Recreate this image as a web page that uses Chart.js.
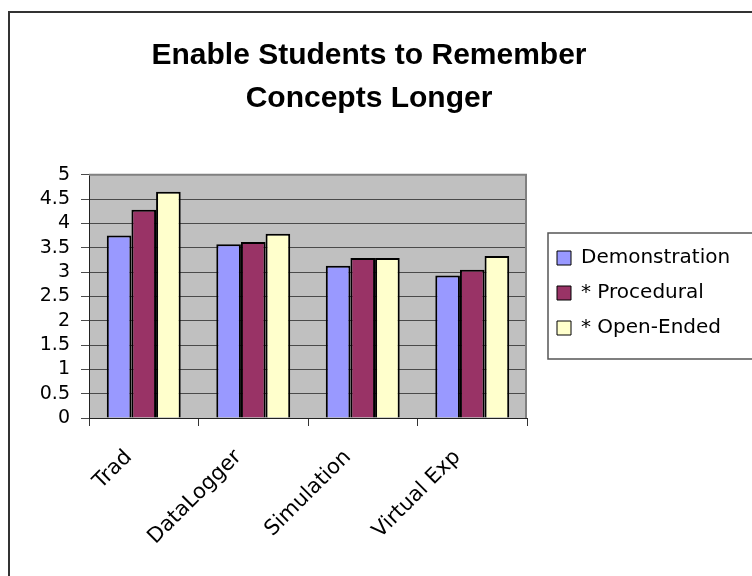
<!DOCTYPE html>
<html>
<head>
<meta charset="utf-8">
<title>Enable Students to Remember Concepts Longer</title>
<script src="https://cdn.jsdelivr.net/npm/chart.js@4"></script>
<style>
  body { margin: 0; background: #fff; }
</style>
</head>
<body>
<canvas id="rememberChart" width="752" height="576"></canvas>
<script>
// data
const categories = ['Trad', 'DataLogger', 'Simulation', 'Virtual Exp'];
const seriesNames = ['Demonstration', '* Procedural', '* Open-Ended'];
const demonstration = [3.75, 3.57, 3.13, 2.93];
const procedural = [4.28, 3.62, 3.29, 3.05];
const openEnded = [4.65, 3.79, 3.29, 3.33];
const yTicks = [0, 0.5, 1, 1.5, 2, 2.5, 3, 3.5, 4, 4.5, 5];
const titleLines = ['Enable Students to Remember', 'Concepts Longer'];

Chart.defaults.font.family = '"DejaVu Sans", sans-serif';
Chart.defaults.color = '#000';

// frame, plot background and legend box like the old Excel chart
const excelFrame = {
    id: 'excelFrame',
    afterInit(chart) {
        const legend = chart.legend;
        const fit = legend.fit;
        legend.fit = function () {
            fit.call(this);
            this.width = 225;
        };
    },
    afterLayout(chart) {
        const lg = chart.legend;
        lg.left += 15;
        lg.right += 15;
        lg.top = 233;
        lg.bottom = lg.top + 130;
        chart.titleBlock.left -= 7;
        chart.titleBlock.right -= 7;
    },
    beforeDraw(chart) {
        const { ctx, chartArea: a } = chart;
        ctx.save();
        ctx.fillStyle = '#c0c0c0';
        ctx.fillRect(a.left, a.top, a.right - a.left, a.bottom - a.top);
        ctx.strokeStyle = '#333';
        ctx.lineWidth = 2;
        ctx.strokeRect(9, 12, 800, 700);
        ctx.restore();
    },
    beforeDatasetsDraw(chart) {
        const { ctx, chartArea: a } = chart;
        ctx.save();
        ctx.strokeStyle = '#808080';
        ctx.lineWidth = 2;
        ctx.beginPath();
        ctx.moveTo(a.left, a.top);
        ctx.lineTo(a.right - 1, a.top);
        ctx.lineTo(a.right - 1, a.bottom);
        ctx.stroke();
        ctx.restore();
    },
    afterDraw(chart) {
        const { ctx } = chart;
        const lg = chart.legend;
        const boxes = lg.legendHitBoxes;
        const last = boxes[boxes.length - 1];
        const bottom = last.top + last.height + 21;
        ctx.save();
        ctx.strokeStyle = '#555';
        ctx.lineWidth = 1.5;
        ctx.strokeRect(lg.left + 6, lg.top, 300, bottom - lg.top);
        ctx.restore();
    }
};

const barStyle = { borderColor: '#000', borderWidth: 2, categoryPercentage: 0.675, barPercentage: 1 };

const ctx = document.getElementById('rememberChart').getContext('2d');
const rememberChart = new Chart(ctx, {
    type: 'bar',
    data: {
        labels: categories,
        datasets: [
            { label: seriesNames[0], data: demonstration, backgroundColor: '#9999ff', ...barStyle },
            { label: seriesNames[1], data: procedural, backgroundColor: '#993366', ...barStyle },
            { label: seriesNames[2], data: openEnded, backgroundColor: '#ffffcc', ...barStyle }
        ]
    },
    options: {
        responsive: false,
        animation: false,
        devicePixelRatio: 1,
        layout: { padding: 0 },
        scales: {
            x: {
                grid: { drawOnChartArea: false, tickLength: 8, color: '#333', offset: true },
                border: { color: '#222', width: 1 },
                ticks: {
                    minRotation: 45, maxRotation: 45, autoSkip: false,
                    padding: 19, labelOffset: -15,
                    font: { size: 21 }
                },
                afterFit(scale) { scale.height = 158; }
            },
            y: {
                min: 0,
                max: 5,
                grid: { color: '#4a4a4a', tickLength: 8 },
                border: { color: '#222', width: 1 },
                ticks: {
                    padding: 11,
                    autoSkip: false,
                    font: { size: 19 },
                    callback: value => String(value)
                },
                afterBuildTicks(scale) { scale.ticks = yTicks.map(v => ({ value: v })); },
                afterFit(scale) { scale.width = 89; }
            }
        },
        plugins: {
            title: {
                display: true,
                text: titleLines,
                color: '#000',
                font: { family: 'Arial, "Liberation Sans", sans-serif', size: 30, weight: 'bold', lineHeight: 1.43 },
                padding: { top: 34, bottom: 55 }
            },
            legend: {
                position: 'right',
                align: 'start',
                labels: {
                    boxWidth: 14,
                    boxHeight: 14,
                    padding: 15,
                    font: { size: 20 },
                    generateLabels(chart) {
                        return Chart.defaults.plugins.legend.labels.generateLabels(chart)
                            .map(item => ({ ...item, lineWidth: 1 }));
                    }
                }
            },
            tooltip: { enabled: false }
        }
    },
    plugins: [excelFrame]
});
</script>
</body>
</html>
